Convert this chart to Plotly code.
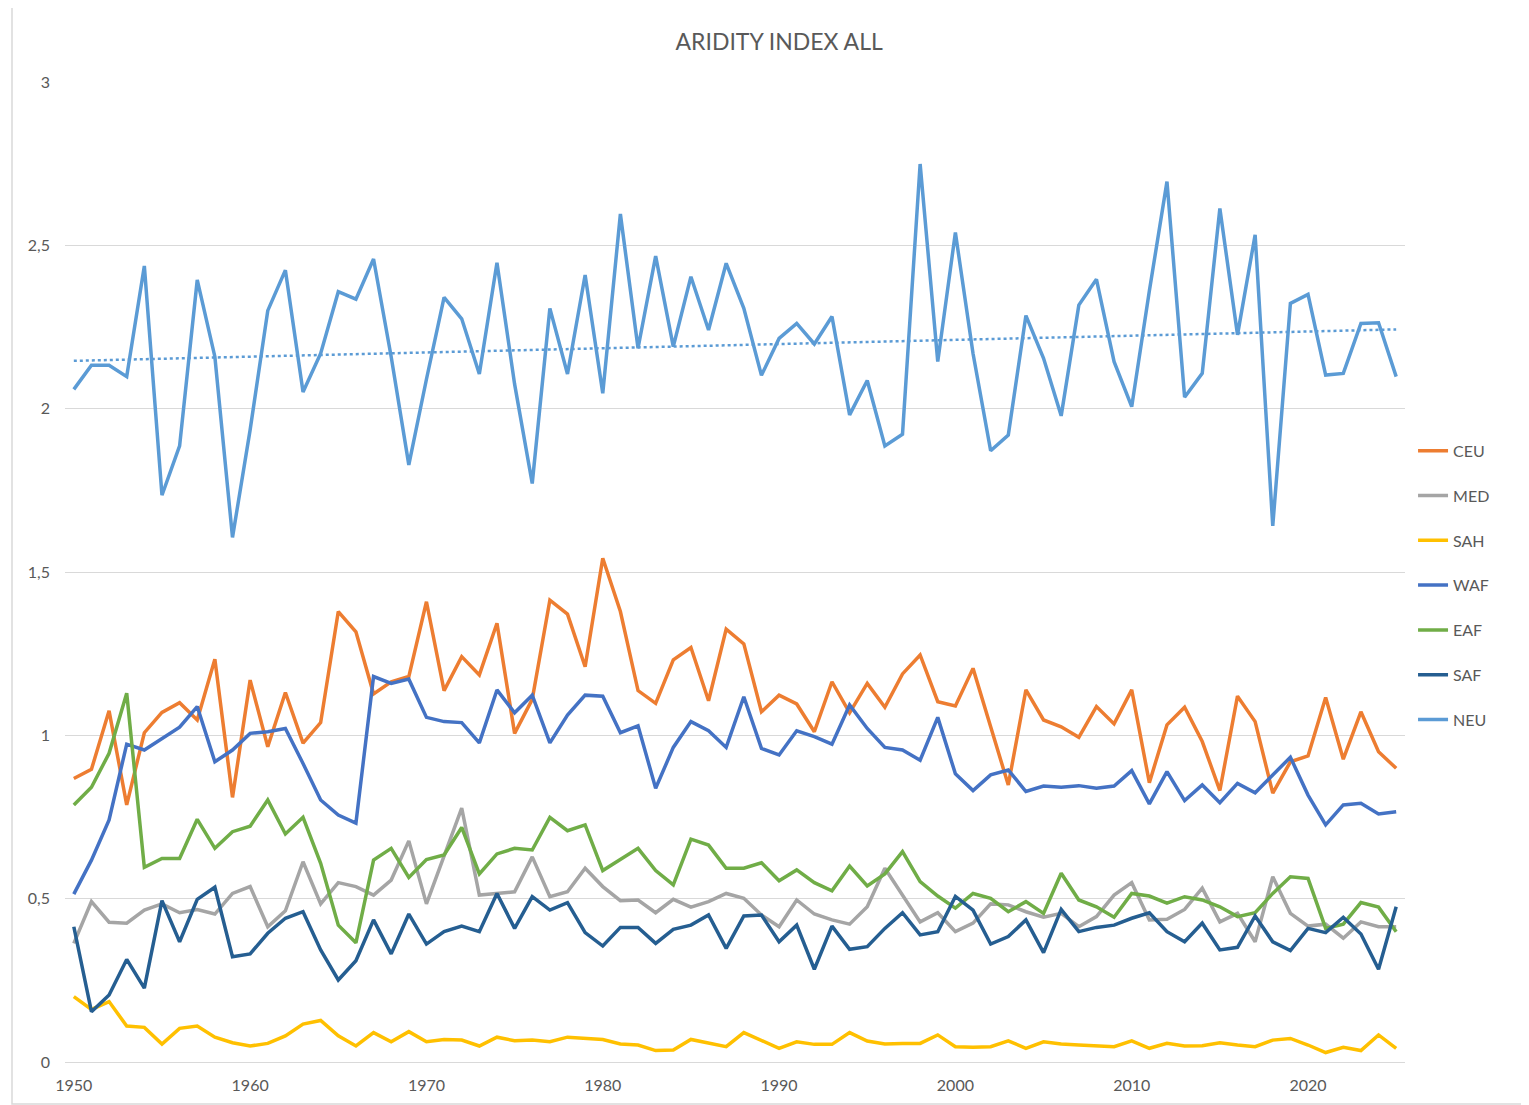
import numpy as np
import plotly.graph_objects as go

years = list(range(1950, 2026))

ceu = [0.868, 0.896, 1.075, 0.787, 1.008, 1.070, 1.100, 1.047, 1.233, 0.810,
       1.169, 0.965, 1.131, 0.976, 1.039, 1.379, 1.317, 1.127, 1.164, 1.180,
       1.409, 1.137, 1.241, 1.185, 1.343, 1.006, 1.110, 1.414, 1.371, 1.210,
       1.542, 1.379, 1.137, 1.098, 1.231, 1.269, 1.106, 1.325, 1.280, 1.072,
       1.123, 1.096, 1.011, 1.164, 1.069, 1.159, 1.086, 1.188, 1.246, 1.103,
       1.090, 1.205, 1.026, 0.848, 1.139, 1.047, 1.026, 0.994, 1.088, 1.035,
       1.139, 0.855, 1.032, 1.086, 0.981, 0.831, 1.120, 1.042, 0.823, 0.919,
       0.937, 1.116, 0.927, 1.072, 0.950, 0.899]

med = [0.363, 0.491, 0.428, 0.425, 0.465, 0.484, 0.457, 0.467, 0.453, 0.516,
       0.537, 0.414, 0.463, 0.613, 0.484, 0.549, 0.537, 0.511, 0.557, 0.677,
       0.484, 0.627, 0.777, 0.511, 0.516, 0.521, 0.628, 0.506, 0.521, 0.593,
       0.537, 0.494, 0.496, 0.457, 0.498, 0.474, 0.491, 0.516, 0.501, 0.450,
       0.414, 0.496, 0.453, 0.435, 0.422, 0.475, 0.593, 0.511, 0.429, 0.457,
       0.399, 0.425, 0.484, 0.481, 0.460, 0.443, 0.455, 0.414, 0.445, 0.511,
       0.549, 0.435, 0.437, 0.467, 0.532, 0.429, 0.455, 0.368, 0.567, 0.455,
       0.416, 0.422, 0.379, 0.429, 0.414, 0.414]

sah = [0.200, 0.161, 0.185, 0.110, 0.106, 0.055, 0.103, 0.110, 0.076, 0.059,
       0.049, 0.057, 0.080, 0.116, 0.127, 0.080, 0.049, 0.090, 0.062, 0.093,
       0.062, 0.069, 0.067, 0.049, 0.076, 0.065, 0.067, 0.062, 0.076, 0.072,
       0.069, 0.055, 0.052, 0.035, 0.037, 0.069, 0.057, 0.047, 0.090, 0.065,
       0.042, 0.062, 0.054, 0.054, 0.090, 0.064, 0.055, 0.057, 0.057, 0.083,
       0.047, 0.045, 0.047, 0.065, 0.042, 0.062, 0.055, 0.052, 0.049, 0.047,
       0.065, 0.042, 0.057, 0.049, 0.050, 0.059, 0.052, 0.047, 0.067, 0.072,
       0.052, 0.029, 0.045, 0.035, 0.083, 0.042]

waf = [0.514, 0.618, 0.741, 0.973, 0.955, 0.989, 1.025, 1.088, 0.919, 0.955,
       1.006, 1.011, 1.021, 0.914, 0.802, 0.756, 0.731, 1.180, 1.159, 1.172,
       1.055, 1.042, 1.039, 0.977, 1.139, 1.069, 1.123, 0.977, 1.062, 1.123,
       1.120, 1.008, 1.029, 0.838, 0.963, 1.042, 1.014, 0.963, 1.118, 0.960,
       0.940, 1.014, 0.996, 0.973, 1.093, 1.021, 0.963, 0.955, 0.924, 1.055,
       0.882, 0.831, 0.879, 0.894, 0.828, 0.845, 0.841, 0.846, 0.838, 0.845,
       0.892, 0.790, 0.889, 0.800, 0.848, 0.794, 0.853, 0.824, 0.879, 0.933,
       0.817, 0.726, 0.787, 0.792, 0.759, 0.766]

eaf = [0.787, 0.841, 0.945, 1.129, 0.596, 0.623, 0.623, 0.743, 0.654, 0.705,
       0.722, 0.802, 0.698, 0.749, 0.608, 0.419, 0.365, 0.618, 0.654, 0.565,
       0.620, 0.634, 0.718, 0.576, 0.637, 0.654, 0.649, 0.749, 0.708, 0.726,
       0.586, 0.620, 0.654, 0.586, 0.542, 0.682, 0.664, 0.593, 0.593, 0.610,
       0.555, 0.588, 0.549, 0.524, 0.600, 0.539, 0.576, 0.644, 0.552, 0.508,
       0.471, 0.516, 0.501, 0.460, 0.491, 0.455, 0.578, 0.496, 0.475, 0.443,
       0.516, 0.508, 0.486, 0.506, 0.496, 0.475, 0.445, 0.457, 0.516, 0.567,
       0.562, 0.409, 0.422, 0.488, 0.474, 0.399]

saf = [0.414, 0.154, 0.205, 0.314, 0.226, 0.494, 0.368, 0.498, 0.535, 0.322,
       0.331, 0.394, 0.440, 0.460, 0.343, 0.251, 0.310, 0.435, 0.331, 0.453,
       0.361, 0.399, 0.416, 0.399, 0.516, 0.409, 0.506, 0.465, 0.488, 0.396,
       0.355, 0.412, 0.412, 0.363, 0.406, 0.419, 0.450, 0.348, 0.447, 0.450,
       0.368, 0.419, 0.284, 0.416, 0.345, 0.353, 0.409, 0.457, 0.389, 0.399,
       0.507, 0.465, 0.361, 0.384, 0.435, 0.335, 0.467, 0.399, 0.412, 0.419,
       0.440, 0.457, 0.399, 0.368, 0.425, 0.343, 0.351, 0.447, 0.368, 0.341,
       0.409, 0.396, 0.443, 0.392, 0.284, 0.475]

neu = [2.059, 2.133, 2.133, 2.098, 2.437, 1.735, 1.886, 2.394, 2.159, 1.606,
       1.935, 2.300, 2.424, 2.051, 2.169, 2.358, 2.335, 2.458, 2.159, 1.828,
       2.090, 2.341, 2.275, 2.106, 2.447, 2.075, 1.771, 2.307, 2.106, 2.409,
       2.047, 2.596, 2.185, 2.467, 2.190, 2.404, 2.241, 2.445, 2.307, 2.102,
       2.215, 2.261, 2.198, 2.282, 1.981, 2.086, 1.886, 1.922, 2.749, 2.144,
       2.539, 2.169, 1.871, 1.919, 2.285, 2.154, 1.978, 2.317, 2.396, 2.144,
       2.006, 2.360, 2.695, 2.035, 2.108, 2.613, 2.226, 2.532, 1.641, 2.322,
       2.350, 2.103, 2.108, 2.261, 2.263, 2.098]

series = [
    ("CEU", ceu, "#ED7D31"),
    ("MED", med, "#A5A5A5"),
    ("SAH", sah, "#FFC000"),
    ("WAF", waf, "#4472C4"),
    ("EAF", eaf, "#70AD47"),
    ("SAF", saf, "#255E91"),
    ("NEU", neu, "#5B9BD5"),
]

fig = go.Figure()
for name, vals, col in series:
    fig.add_trace(go.Scatter(
        x=years, y=vals, mode="lines", name=name, legendgroup=name,
        line=dict(color=col, width=3.5),
    ))

# tendencia lineal de NEU (punteada)
coef = np.polyfit(years, neu, 1)
trend = np.polyval(coef, years)
fig.add_trace(go.Scatter(
    x=years, y=trend, mode="lines", showlegend=False,
    line=dict(color="#5B9BD5", width=2.5, dash="dot"),
))

# la página tiene 8 px de margen en el body
fig.update_layout(
    width=1521, height=1097,
    paper_bgcolor="white", plot_bgcolor="white",
    font=dict(family="Lato, 'Open Sans', sans-serif", size=16, color="#595959"),
    separators=",.",
    title=dict(text="ARIDITY INDEX ALL", x=0.507, xanchor="center", y=0.969,
               yanchor="middle", font=dict(size=23, color="#595959")),
    margin=dict(l=57, r=124, t=74, b=43),
    showlegend=True,
    legend=dict(x=1.006, xanchor="left", y=0.641, yanchor="top",
                tracegroupgap=21, font=dict(size=16, color="#595959"),
                bgcolor="rgba(0,0,0,0)"),
    xaxis=dict(range=[1949.5, 2025.5], tickvals=list(range(1950, 2030, 10)),
               showgrid=False, zeroline=False, showline=False, ticks="",
               ticklabelstandoff=12),
    yaxis=dict(range=[0, 3], dtick=0.5, showgrid=True, gridcolor="#D9D9D9",
               gridwidth=1, zeroline=True, zerolinecolor="#D9D9D9",
               zerolinewidth=1, showline=False, ticks="", ticklabelstandoff=14),
    shapes=[dict(type="rect", xref="paper", yref="paper",
                 x0=-53 / 1340, x1=1462 / 1340, y0=-42 / 980, y1=1 + 76 / 980,
                 line=dict(color="#D9D9D9", width=1.5))],
)

fig.write_html("out.html")
